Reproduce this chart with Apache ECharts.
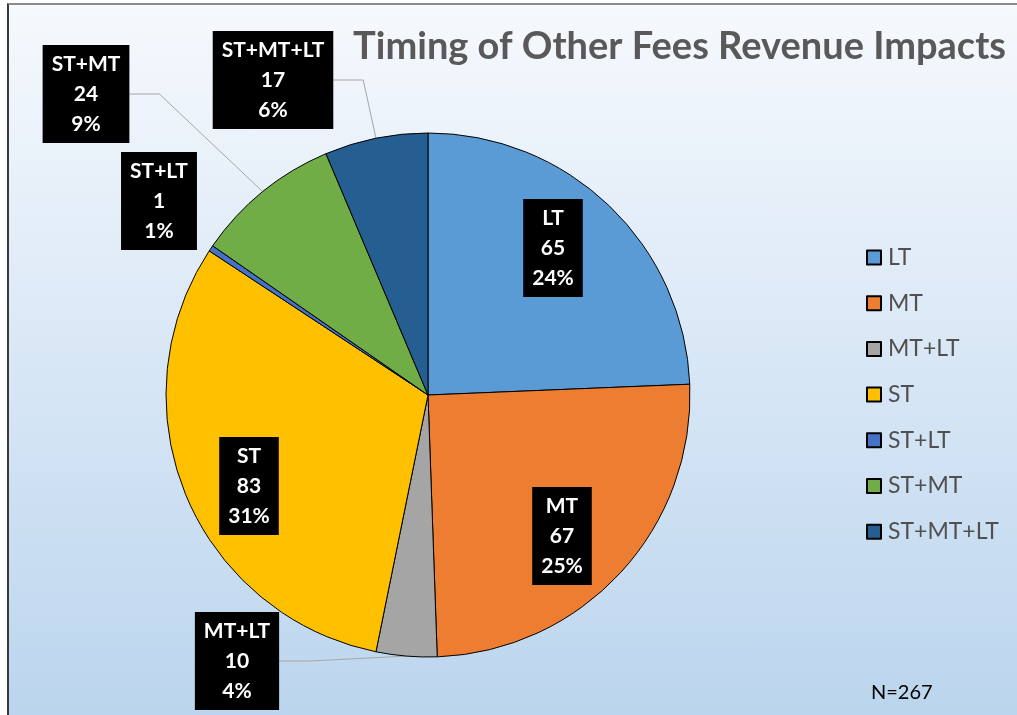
<!DOCTYPE html>
<html>
<head>
<meta charset="utf-8">
<script src="https://cdn.jsdelivr.net/npm/echarts@6/dist/echarts.min.js"></script>
<style>
  body { margin: 0; background: #fff; }
  #frame {
    position: absolute; left: 7px; top: 3px; right: 0; bottom: 0;
    border-left: 2px solid #3a3a3a;
    border-top: 2px solid #8c8c8c;
    background: linear-gradient(#f6f9fd, #bbd5ee);
  }
  #chart { position: absolute; left: 0; top: 0; width: 1017px; height: 715px; }
</style>
</head>
<body>
<div id="frame"></div>
<div id="chart"></div>
<script>
// data
var categories = ['LT', 'MT', 'MT+LT', 'ST', 'ST+LT', 'ST+MT', 'ST+MT+LT'];
var counts = [65, 67, 10, 83, 1, 24, 17];
var colors = ['#5B9BD5', '#ED7D31', '#A5A5A5', '#FFC000', '#4472C4', '#70AD47', '#255E91'];

// labels drawn inside their slice, the rest sit outside with a leader line
var insideLabels = ['LT', 'MT', 'ST'];
var noLeader = ['ST+LT'];
// where each label box is centred (px)
var labelCenters = {
  'LT': [553, 248],
  'MT': [562, 536],
  'MT+LT': [237, 661],
  'ST': [249, 486],
  'ST+LT': [159, 201],
  'ST+MT': [86, 94],
  'ST+MT+LT': [273, 80]
};

var total = counts.reduce(function (a, b) { return a + b; }, 0);

var myChart = echarts.init(document.getElementById('chart'));

var pieData = categories.map(function (name, i) {
  var inside = insideLabels.indexOf(name) >= 0;
  return {
    name: name,
    value: counts[i],
    itemStyle: { color: colors[i] },
    label: { position: inside ? 'inside' : 'outside' },
    labelLine: { show: !inside && noLeader.indexOf(name) < 0 }
  };
});

var option = {
  backgroundColor: 'transparent',
  animation: false,
  title: [
    {
      text: 'Timing of Other Fees Revenue Impacts',
      right: 6,
      top: 23,
      textStyle: { fontFamily: 'Lato', fontWeight: 'bold', fontSize: 38, color: '#595959' }
    },
    {
      text: 'N=' + total,
      left: 866,
      top: 678,
      textStyle: { fontFamily: 'Lato', fontWeight: 'normal', fontSize: 20, color: '#000' }
    }
  ],
  legend: {
    orient: 'vertical',
    left: 861,
    top: 241,
    itemWidth: 14,
    itemHeight: 14,
    itemGap: 22.7,
    icon: 'rect',
    data: categories,
    textStyle: { fontFamily: 'Lato', fontSize: 23, color: '#505050', lineHeight: 20, padding: [0, 0, 0, 2] }
  },
  series: [
    {
      name: 'Timing',
      type: 'pie',
      center: [428, 395],
      radius: 262,
      startAngle: 90,
      clockwise: true,
      avoidLabelOverlap: false,
      percentPrecision: 0,
      itemStyle: { borderColor: '#000', borderWidth: 1 },
      label: {
        formatter: '{b}\n{c}\n{d}%',
        color: '#fff',
        backgroundColor: '#000',
        fontFamily: 'Lato',
        fontWeight: 'bold',
        fontSize: 21,
        lineHeight: 30,
        padding: [5, 9, 3, 9],
        align: 'center'
      },
      labelLine: {
        lineStyle: { color: '#a6a6a6', width: 1 }
      },
      labelLayout: function (params) {
        var p = labelCenters[categories[params.dataIndex]];
        return { x: p[0], y: p[1], align: 'center', verticalAlign: 'middle' };
      },
      emphasis: { disabled: true },
      data: pieData
    }
  ]
};

myChart.setOption(option);
</script>
</body>
</html>
